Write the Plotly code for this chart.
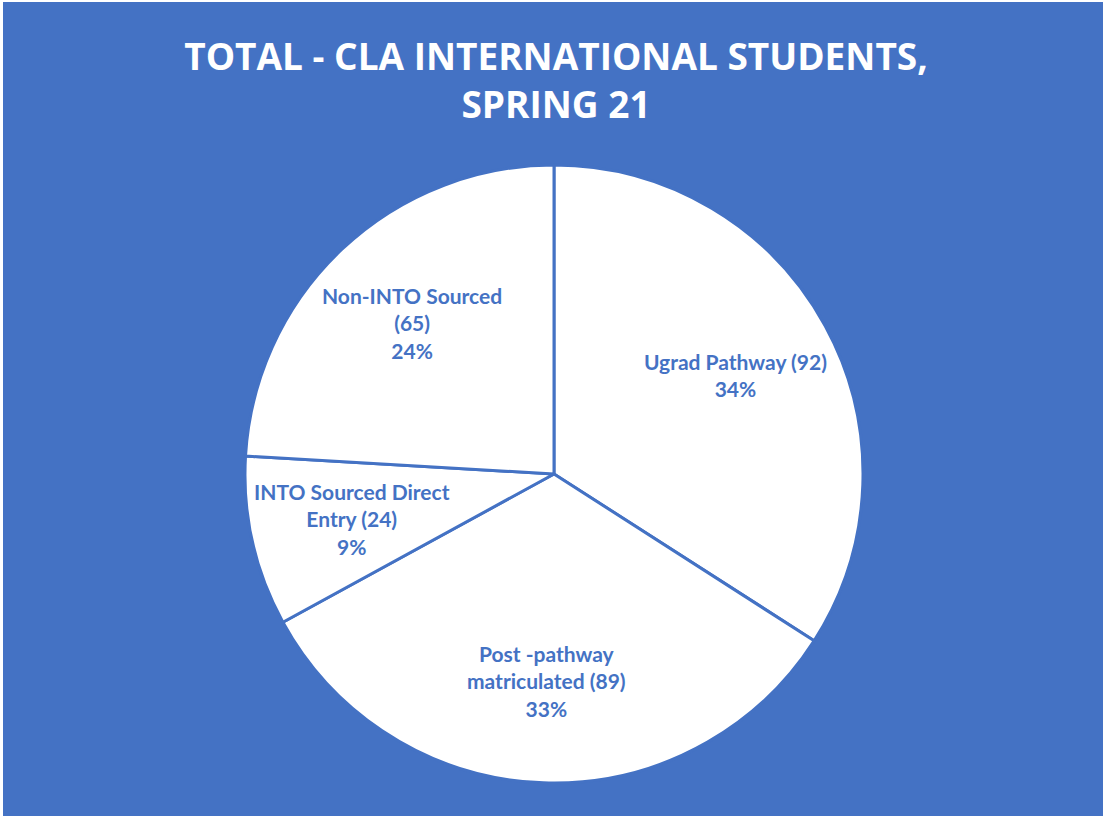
import math
import plotly.graph_objects as go

# Data
categories = ["Ugrad Pathway", "Post -pathway matriculated", "INTO Sourced Direct Entry", "Non-INTO Sourced"]
values = [92, 89, 24, 65]
label_lines = [
    ["Ugrad Pathway ({v})"],
    ["Post -pathway", "matriculated ({v})"],
    ["INTO Sourced Direct", "Entry ({v})"],
    ["Non-INTO Sourced", "({v})"],
]
title_text = "TOTAL - CLA INTERNATIONAL STUDENTS,<br>SPRING 21"

BLUE = "#4472C4"
W, H = 1105, 819
cx_px, cy_px, R_px = 554, 474, 309

fig = go.Figure()
fig.add_trace(go.Pie(
    labels=categories,
    values=values,
    sort=False,
    direction="clockwise",
    rotation=0,
    marker=dict(colors=["white"] * len(values), line=dict(color=BLUE, width=3)),
    textinfo="none",
    hoverinfo="label+value+percent",
    showlegend=False,
    domain=dict(x=[(cx_px - R_px) / W, (cx_px + R_px) / W],
                y=[1 - (cy_px + R_px) / H, 1 - (cy_px - R_px) / H]),
))

# labels at 0.67 R along mid-angle of each slice
total = sum(values)
cum = 0
annotations = []
for lines, v in zip(label_lines, values):
    mid = (cum + v / 2) / total * 2 * math.pi
    cum += v
    r = 0.67 * R_px
    px = cx_px + r * math.sin(mid)
    py = cy_px - r * math.cos(mid)
    pct = round(100 * v / total)
    text = "<br>".join([l.format(v=v) for l in lines] + [f"{pct}%"])
    annotations.append(dict(
        x=px / W, y=1 - py / H, xref="paper", yref="paper",
        text=text, showarrow=False, xanchor="center", yanchor="middle",
        font=dict(family="Lato", size=21, color=BLUE, weight="bold"),
        align="center",
    ))

fig.update_layout(
    width=W, height=H,
    margin=dict(l=0, r=0, t=0, b=0),
    paper_bgcolor="white",
    plot_bgcolor="white",
    title=dict(
        text=title_text, x=556 / W, y=1 - 70 / H, xanchor="center", yanchor="middle",
        font=dict(family="Open Sans", size=37, color="white", weight="bold"),
    ),
    annotations=annotations,
    shapes=[dict(type="rect", xref="paper", yref="paper",
                 x0=3 / W, x1=1103 / W, y0=1 - 816 / H, y1=1 - 2 / H,
                 fillcolor=BLUE, line=dict(width=0), layer="below")],
)

fig.write_html("out.html", config={"displayModeBar": False},
               post_script="document.body.style.margin='0';")
